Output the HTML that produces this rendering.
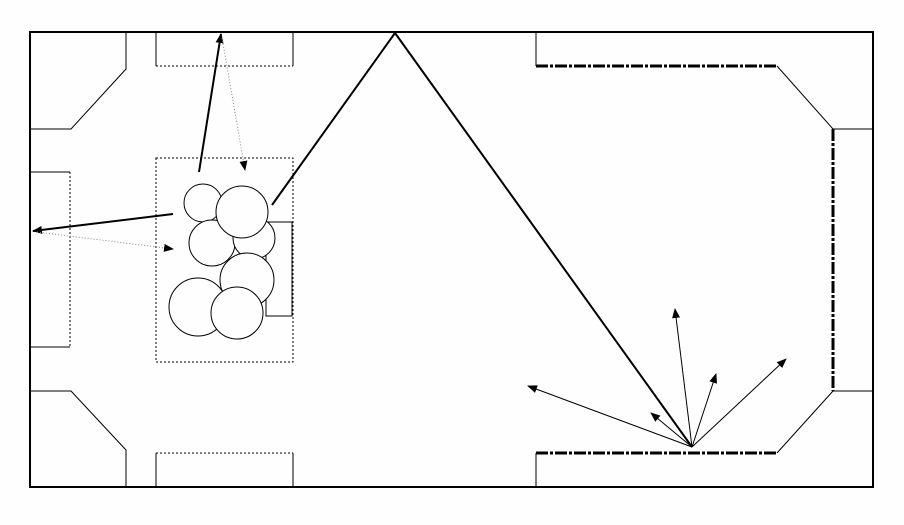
<!DOCTYPE html>
<html><head><style>html,body{margin:0;padding:0;background:#fdfefd;}</style></head><body>
<svg width="904" height="520" xmlns="http://www.w3.org/2000/svg">
<defs>
<marker id="a" markerWidth="10" markerHeight="8" refX="9" refY="4" orient="auto" markerUnits="userSpaceOnUse"><path d="M0,0 L10,4 L0,8 z" fill="#000"/></marker>
</defs>
<rect width="904" height="520" fill="#fdfefd"/>
<g fill="none" stroke="#000">
<rect x="30" y="32" width="843" height="455" stroke-width="2"/>
<polyline points="126,32 126,69 71,129 30,129"/>
<polyline points="126,487 126,450 71,391 30,391"/>
<polyline points="156,32 156,66"/><polyline points="293,32 293,66"/>
<line x1="156" y1="66" x2="293" y2="66" stroke-dasharray="2,2"/>
<polyline points="156,487 156,453"/><polyline points="293,487 293,453"/>
<line x1="156" y1="453" x2="293" y2="453" stroke-dasharray="2,2"/>
<polyline points="30,172 70,172"/><polyline points="30,347 70,347"/>
<line x1="70" y1="172" x2="70" y2="347" stroke-dasharray="2,2"/>
<rect x="156" y="158" width="137" height="204" stroke-dasharray="2,2"/>
<rect x="266" y="222" width="26" height="94"/>
<g fill="#fdfefd">
<circle cx="203" cy="203" r="19"/>
<circle cx="212" cy="243" r="23"/>
<circle cx="254" cy="238" r="21"/>
<circle cx="242" cy="212" r="26"/>
<circle cx="247" cy="280" r="27"/>
<circle cx="198" cy="307" r="29"/>
<circle cx="237" cy="313" r="26"/>
</g>
<line x1="536" y1="32" x2="536" y2="66"/>
<line x1="536" y1="487" x2="536" y2="453"/>
<line x1="536" y1="66" x2="777" y2="66" stroke-width="3" stroke-dasharray="12,2,3,2"/>
<line x1="536" y1="453" x2="777" y2="453" stroke-width="3" stroke-dasharray="12,2,3,2"/>
<line x1="833" y1="129" x2="833" y2="391" stroke-width="3" stroke-dasharray="12,2,3,2"/>
<line x1="777" y1="66" x2="833" y2="129"/>
<line x1="833" y1="391" x2="777" y2="453"/>
<line x1="833" y1="129" x2="873" y2="129"/>
<line x1="833" y1="391" x2="873" y2="391"/>
<line x1="199" y1="172" x2="221" y2="34" stroke-width="2" marker-end="url(#a)"/>
<line x1="222" y1="38" x2="245" y2="170" stroke="#888" stroke-dasharray="1,2" marker-end="url(#a)"/>
<line x1="173" y1="214" x2="33" y2="231" stroke-width="2" marker-end="url(#a)"/>
<line x1="37" y1="232" x2="173" y2="249" stroke="#888" stroke-dasharray="1,2" marker-end="url(#a)"/>
<line x1="272" y1="205" x2="395" y2="33" stroke-width="2"/>
<line x1="395" y1="33" x2="692" y2="447" stroke-width="2"/>
<line x1="692" y1="447" x2="528" y2="386" marker-end="url(#a)"/>
<line x1="692" y1="447" x2="651" y2="413" marker-end="url(#a)"/>
<line x1="692" y1="447" x2="675" y2="309" marker-end="url(#a)"/>
<line x1="692" y1="447" x2="716" y2="374" marker-end="url(#a)"/>
<line x1="692" y1="447" x2="786" y2="359" marker-end="url(#a)"/>
</g>
</svg>
</body></html>
